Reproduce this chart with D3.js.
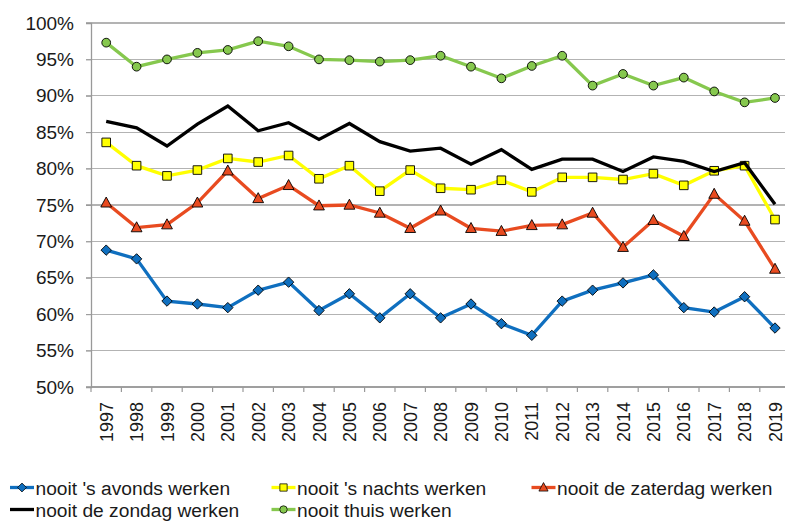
<!DOCTYPE html>
<html>
<head>
<meta charset="utf-8">
<script src="https://cdn.jsdelivr.net/npm/d3@7"></script>
<style>
  html, body { margin: 0; padding: 0; background: #fff; }
  svg { display: block; }
  text { font-family: "Liberation Sans", Arial, sans-serif; fill: #1a1a1a; }
</style>
</head>
<body>
<svg id="chart" width="785" height="521"></svg>
<script>
const years = ["1997","1998","1999","2000","2001","2002","2003","2004","2005","2006","2007","2008","2009","2010","2011","2012","2013","2014","2015","2016","2017","2018","2019"];
const avonds   = [68.8,67.6,61.8,61.4,60.9,63.3,64.4,60.5,62.8,59.5,62.8,59.5,61.4,58.7,57.1,61.8,63.3,64.3,65.4,60.9,60.3,62.4,58.1];
const nachts   = [83.6,80.4,79.0,79.8,81.4,80.9,81.8,78.6,80.4,76.9,79.8,77.3,77.1,78.4,76.8,78.8,78.8,78.5,79.3,77.7,79.7,80.4,73.0];
const zaterdag = [75.3,71.9,72.3,75.3,79.7,75.9,77.7,74.9,75.0,73.9,71.8,74.2,71.8,71.4,72.2,72.3,73.9,69.2,72.9,70.7,76.5,72.8,66.2];
const zondag   = [86.5,85.6,83.1,86.1,88.6,85.2,86.3,84.0,86.2,83.7,82.4,82.8,80.6,82.6,79.9,81.3,81.3,79.6,81.6,81.0,79.6,80.8,75.1];
const thuis    = [97.3,94.0,95.0,95.9,96.3,97.5,96.8,95.0,94.9,94.7,94.9,95.5,94.0,92.4,94.1,95.5,91.4,93.0,91.4,92.5,90.6,89.1,89.7];
const yTicks   = [50,55,60,65,70,75,80,85,90,95,100];
const seriesNames = ["nooit 's avonds werken","nooit 's nachts werken","nooit de zaterdag werken","nooit de zondag werken","nooit thuis werken"];

const series = [
  {name: seriesNames[0], values: avonds,   color: "#0F6FBF", marker: "diamond"},
  {name: seriesNames[1], values: nachts,   color: "#FFFF00", marker: "square"},
  {name: seriesNames[2], values: zaterdag, color: "#E84B20", marker: "triangle"},
  {name: seriesNames[3], values: zondag,   color: "#000000", marker: "none"},
  {name: seriesNames[4], values: thuis,    color: "#86C84E", marker: "circle"}
];

const svg = d3.select("#chart");
const pLeft = 91, pRight = 790.2, pTop = 23, pBottom = 387;

const x = d3.scaleBand().domain(years).range([pLeft, pRight]).paddingInner(0).paddingOuter(0);
const y = d3.scaleLinear().domain([50, 100]).range([pBottom, pTop]);
const cx = d => x(d) + x.bandwidth() / 2;

// gridlines
svg.append("g").selectAll("line").data(yTicks).join("line")
  .attr("x1", pLeft - 5).attr("x2", pRight)
  .attr("y1", d => y(d)).attr("y2", d => y(d))
  .attr("stroke", "#b3b3b3").attr("stroke-width", 1.3).attr("shape-rendering", "crispEdges");

// y axis
const yAxis = d3.axisLeft(y).tickValues(yTicks).tickSize(5).tickPadding(12).tickFormat(d => d + "%");
const gy = svg.append("g").attr("transform", `translate(${pLeft},0)`).call(yAxis);
gy.select(".domain").attr("stroke", "#999").attr("stroke-width", 1.3);
gy.selectAll(".tick line").attr("stroke", "#999");
gy.selectAll(".tick text").attr("font-size", 19).attr("fill", "#1a1a1a")
  .attr("font-family", "'Liberation Sans', Arial, sans-serif");

// x axis ticks at band boundaries
const boundaries = years.map(d => x(d)).concat([pRight]);
svg.append("line").attr("x1", pLeft).attr("x2", pRight).attr("y1", pBottom).attr("y2", pBottom)
  .attr("stroke", "#999").attr("stroke-width", 1.3);
svg.append("g").selectAll("line").data(boundaries).join("line")
  .attr("x1", d => d).attr("x2", d => d).attr("y1", pBottom).attr("y2", pBottom + 5)
  .attr("stroke", "#999").attr("stroke-width", 1.2);

svg.append("g").selectAll("text").data(years).join("text")
  .attr("transform", d => `translate(${cx(d) + 6.5},${pBottom + 15}) rotate(-90)`)
  .attr("text-anchor", "end")
  .attr("font-size", 18)
  .text(d => d);

// lines
const lineGen = d3.line().x((v, i) => cx(years[i])).y(v => y(v));

const markerPath = {
  diamond: () => "M0,-5.2L5.2,0L0,5.2L-5.2,0Z",
  square: () => "M-4.3,-4.3H4.3V4.3H-4.3Z",
  triangle: () => "M0,-5.8L5.4,4.2H-5.4Z",
  circle: () => d3.symbol(d3.symbolCircle, 60)()
};

series.forEach(s => {
  const g = svg.append("g");
  g.append("path").datum(s.values)
    .attr("d", lineGen).attr("fill", "none")
    .attr("stroke", s.color).attr("stroke-width", 3.3).attr("stroke-linejoin", "miter");
  if (s.marker !== "none") {
    g.selectAll("path.m").data(s.values).join("path").attr("class", "m")
      .attr("transform", (v, i) => `translate(${cx(years[i])},${y(v)})`)
      .attr("d", markerPath[s.marker]())
      .attr("fill", s.color).attr("stroke", "#000").attr("stroke-width", 0.9);
  }
});

// legend
const legendPos = [
  {x: 10, yb: 494.5}, {x: 271.5, yb: 494.5}, {x: 531.5, yb: 494.5},
  {x: 10, yb: 516.5}, {x: 271.5, yb: 516.5}
];
series.forEach((s, i) => {
  const p = legendPos[i];
  const g = svg.append("g").attr("transform", `translate(${p.x},${p.yb})`);
  g.append("line").attr("x1", 0).attr("x2", 24).attr("y1", -7).attr("y2", -7)
    .attr("stroke", s.color).attr("stroke-width", 3.3);
  if (s.marker !== "none") {
    g.append("path").attr("transform", "translate(12,-7) scale(0.85)")
      .attr("d", markerPath[s.marker]())
      .attr("fill", s.color).attr("stroke", "#000").attr("stroke-width", 0.9);
  }
  g.append("text").attr("x", 25.5).attr("y", 0).attr("font-size", 19.2).text(s.name);
});
</script>
</body>
</html>
